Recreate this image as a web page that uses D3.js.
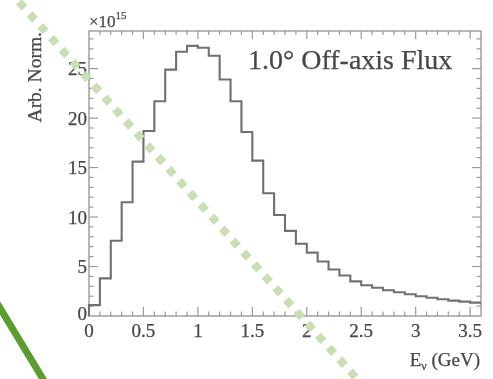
<!DOCTYPE html>
<html>
<head>
<meta charset="utf-8">
<script src="https://cdn.jsdelivr.net/npm/d3@7"></script>
<style>
  html, body { margin: 0; padding: 0; background: #fff; }
  svg { display: block; }
  text { font-family: "Liberation Serif", "Times New Roman", serif; fill: #474747; stroke: #474747; stroke-width: 0.25; }
</style>
</head>
<body>
<svg id="chart" width="493" height="379"></svg>
<script>
// Off-axis neutrino flux, 0.1 GeV bins from 0 to 3.6 GeV (units of 1e15, arbitrary normalisation)
const binEdgesStart = 0;
const binWidth = 0.1;
const fluxValues = [
  1.1, 3.8, 7.6, 11.5, 15.6, 18.7, 21.7, 24.9, 26.7, 27.3,
  27.1, 26.3, 23.9, 21.7, 18.6, 15.7, 12.4, 10.2, 8.6, 7.3,
  6.4, 5.5, 4.7, 4.1, 3.5, 3.1, 2.85, 2.6, 2.4, 2.2,
  2.0, 1.85, 1.7, 1.55, 1.45, 1.35
];
const xTickValues = [0, 0.5, 1, 1.5, 2, 2.5, 3, 3.5];
const xTickLabels = ["0", "0.5", "1", "1.5", "2", "2.5", "3", "3.5"];
const yTickValues = [0, 5, 10, 15, 20, 25];
const yTickLabels = ["0", "5", "10", "15", "20", "25"];
const xDomain = [0, 3.6];
const yDomain = [0, 28.8];

const svg = d3.select("#chart");
const defs = svg.append("defs");
defs.append("filter").attr("id", "soft")
  .attr("x", "-5%").attr("y", "-5%").attr("width", "110%").attr("height", "110%")
  .append("feGaussianBlur").attr("stdDeviation", 0.6);

const root = svg.append("g").attr("filter", "url(#soft)");

const L = 89, R = 481, T = 31, B = 316;
const x = d3.scaleLinear().domain(xDomain).range([L, R]);
const y = d3.scaleLinear().domain(yDomain).range([B, T]);

const frameColor = "#9a9a9a";

// Axes with inward ticks (major + minor), mirrored on top and right
const xMinor = d3.range(0, 36).map(i => i * 0.1).filter(v => v > 0);
const yMinor = d3.range(1, 29);

const ticks = root.append("g").attr("stroke", frameColor).attr("stroke-width", 1.2);
function xTick(v, len, yBase, dir) {
  ticks.append("line").attr("x1", x(v)).attr("x2", x(v))
    .attr("y1", yBase).attr("y2", yBase + dir * len);
}
function yTick(v, len, xBase, dir) {
  ticks.append("line").attr("y1", y(v)).attr("y2", y(v))
    .attr("x1", xBase).attr("x2", xBase + dir * len);
}
xMinor.forEach(v => {
  const major = xTickValues.some(t => Math.abs(t - v) < 1e-6);
  const len = major ? 9 : 4.5;
  xTick(v, len, B, -1);
  xTick(v, len * 0.9, T, 1);
});
yMinor.forEach(v => {
  const major = yTickValues.includes(v);
  const len = major ? 9 : 4.5;
  yTick(v, len, L, 1);
  yTick(v, len, R, -1);
});

// Frame
root.append("rect").attr("x", L).attr("y", T).attr("width", R - L).attr("height", B - T)
  .attr("fill", "none").attr("stroke", frameColor).attr("stroke-width", 1.4);

// Histogram outline
const pts = [[x(binEdgesStart), y(0)]];
fluxValues.forEach((v, i) => {
  const x0 = binEdgesStart + i * binWidth;
  pts.push([x(x0), y(v)]);
  pts.push([x(x0 + binWidth), y(v)]);
});
root.append("path")
  .attr("d", d3.line()(pts))
  .attr("fill", "none").attr("stroke", "#707070").attr("stroke-width", 2.1)
  .attr("stroke-linejoin", "miter");

// Tick labels
root.append("g").selectAll("text").data(xTickValues).join("text")
  .attr("x", d => x(d)).attr("y", 337)
  .attr("text-anchor", "middle").attr("font-size", 19)
  .text((d, i) => xTickLabels[i]);

root.append("g").selectAll("text").data(yTickValues).join("text")
  .attr("x", 87).attr("y", d => Math.min(y(d) + 6.5, 319.5))
  .attr("text-anchor", "end").attr("font-size", 19)
  .text((d, i) => yTickLabels[i]);

// Exponent
const ex = root.append("text").attr("x", 89).attr("y", 27).attr("font-size", 17);
ex.append("tspan").text("×10");
ex.append("tspan").attr("dy", -8).attr("font-size", 11).text("15");

// Axis titles
root.append("text")
  .attr("transform", "translate(41,32) rotate(-90)")
  .attr("text-anchor", "end").attr("font-size", 19.5)
  .text("Arb. Norm.");

const xt = root.append("text").attr("x", 480).attr("y", 366)
  .attr("text-anchor", "end").attr("font-size", 19);
xt.append("tspan").text("E");
xt.append("tspan").attr("dy", 4).attr("font-size", 12).text("ν");
xt.append("tspan").attr("dy", -4).text(" (GeV)");

// Plot label
root.append("text").attr("x", 248).attr("y", 69)
  .attr("font-size", 28)
  .text("1.0° Off-axis Flux");

// Slide overlay strokes
svg.append("line")
  .attr("x1", 8.3).attr("y1", -10).attr("x2", 367).attr("y2", 390)
  .attr("stroke", "#c8deb3").attr("stroke-width", 8)
  .attr("stroke-dasharray", "8 8");
svg.append("line")
  .attr("x1", -4.8).attr("y1", 300).attr("x2", 46.6).attr("y2", 385)
  .attr("stroke", "#5c9b2d").attr("stroke-width", 7);
</script>
</body>
</html>
